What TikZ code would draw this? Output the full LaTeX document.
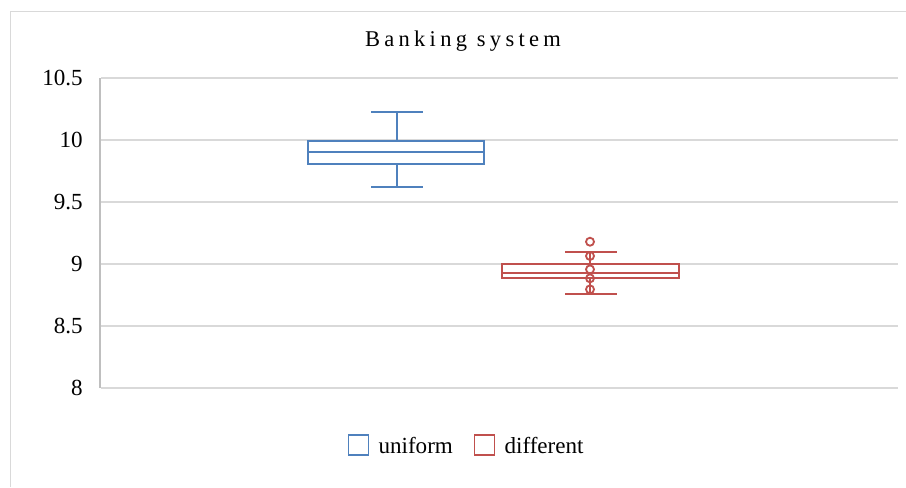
\documentclass[tikz,border=0pt]{standalone}
\usepackage{fontspec}
\setmainfont{Liberation Serif}
\newfontfamily\titlefont[LetterSpace=19]{Liberation Serif}
\usetikzlibrary{positioning}

\definecolor{boxblue}{HTML}{4F81BD}
\definecolor{boxred}{HTML}{C0504D}
\definecolor{gridgray}{HTML}{D9D9D9}
\definecolor{axisgray}{HTML}{BFBFBF}

\tikzset{
	gridline/.style={gridgray, line width=1.4pt},
	ticklabel/.style={anchor=east, inner sep=0pt, font=\fontsize{16.4}{18}\selectfont},
	boxline/.style={line width=1.4pt},
	outlier/.style={line width=1.3pt},
	legendkey/.style={draw, line width=1.4pt, minimum size=0.5cm, inner sep=0pt},
	legendtext/.style={inner sep=0pt, font=\fontsize{16.4}{18}\selectfont}
}

\begin{document}
\begin{tikzpicture}[x=0.025cm, y=3.1cm]
	\useasboundingbox (0,7.2016) rectangle (906,11.129);

	% -- Chart frame
	\draw[gridgray, line width=0.7pt] (10,7.2016) -- (10,11.04) -- (906,11.04);

	% -- Title
	\node (title) at (463,10.798) {\titlefont\fontsize{16}{18}\selectfont Banking system};

	% -- Grid and tick labels
	\foreach \v/\lab in {8/8, 8.5/8.5, 9/9, 9.5/9.5, 10/10, 10.5/10.5} {
		\draw[gridline] (101,\v) -- (898,\v);
		\node[ticklabel] (tick-\lab) at (83,\v) {\lab};
	}
	\draw[axisgray, line width=2.1pt] (100,8) -- (100,10.5);

	% -- uniform
	\begin{scope}[boxblue, boxline]
		\draw (308,9.804) rectangle (484,9.994);
		\draw (308,9.906) -- (484,9.906);
		\draw (397,9.994) -- (397,10.223);
		\draw (371,10.223) -- (423,10.223);
		\draw (397,9.804) -- (397,9.623);
		\draw (371,9.623) -- (423,9.623);
	\end{scope}

	% -- different
	\begin{scope}[boxred, boxline]
		\draw (502,8.887) rectangle (679,9.0);
		\draw (502,8.927) -- (679,8.927);
		\draw (590,9.0) -- (590,9.099);
		\draw (565,9.099) -- (617,9.099);
		\draw (590,8.887) -- (590,8.756);
		\draw (565,8.756) -- (617,8.756);
	\end{scope}
	\foreach \v in {9.180, 9.065, 8.957, 8.885, 8.796}
		\draw[boxred, outlier] (590,\v) circle (0.1cm);

	% -- Legend
	\node[legendkey, boxblue] (key-uniform) at (358.5,7.540) {};
	\node[legendtext, right=0.22cm of key-uniform] (lab-uniform) {uniform};
	\node[legendkey, boxred] (key-different) at (484.5,7.540) {};
	\node[legendtext, right=0.22cm of key-different] (lab-different) {different};
\end{tikzpicture}
\end{document}
